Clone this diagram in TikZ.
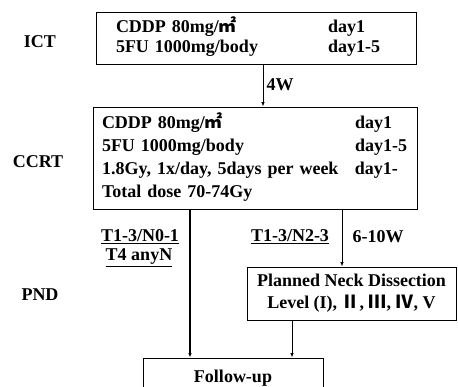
\documentclass[tikz,border=0pt]{standalone}
\usepackage{fontspec}
\setmainfont{Liberation Serif}
\newfontfamily\cjk{Noto Sans CJK SC}
\usetikzlibrary{arrows.meta,positioning,calc}

\begin{document}
\begin{tikzpicture}[
  x=1pt, y=-1pt,
  panel/.style={
    rectangle,
    draw,
    line width=0.9pt,
    inner xsep=0pt,
    inner ysep=0pt,
    align=left,
    font=\fontsize{18}{20}\selectfont\bfseries
  },
  flow/.style={-{Latex[length=4.5pt,width=3.5pt]}, line width=0.8pt},
  phase/.style={inner sep=0pt, font=\fontsize{18}{20}\selectfont\bfseries},
  cond/.style={inner sep=0pt, font=\fontsize{18}{20}\selectfont\bfseries}
]

\clip (0,0) rectangle (458,386);

\node[phase] (ictlab) at (40,42) {ICT};
\node[phase] (ccrtlab) at (38,162) {CCRT};
\node[phase] (pndlab) at (40,295) {PND};

\node[panel, minimum width=320, minimum height=52, text width=280] (ict) at (256,38) {%
  \begin{tabular}{@{}p{212pt}@{}l@{}}
    CDDP 80mg/{\cjk ㎡} & day1\\
    5FU 1000mg/body & day1-5
  \end{tabular}};

\node[panel, minimum width=324, minimum height=102, text width=306] (ccrt) at (255,158) {%
  \raisebox{-3pt}{\begin{tabular}{@{}p{253pt}@{}l@{}}
    CDDP 80mg/{\cjk ㎡} & day1\\[3pt]
    5FU 1000mg/body & day1-5\\[3pt]
    1.8Gy, 1x/day, 5days per week & day1-\\[3pt]
    Total dose 70-74Gy &
  \end{tabular}}};

\node[panel, align=center, minimum width=209, minimum height=53] (pnd) at (351.5,293.5) {%
  Planned Neck Dissection\\[2pt]
  Level (I), {\cjk Ⅱ}, {\cjk Ⅲ}, {\cjk Ⅳ}, V};

\node[panel, align=center, minimum width=180, minimum height=40] (follow) at (233,378) {Follow-up};

\node[cond] (gap) at (280,85) {4W};
\node[cond] (lowN) at (140,237) {\underline{T1-3/N0-1}};
\node[cond] (anyN) at (139,258) {\underline{T4 anyN}};
\node[cond] (highN) at (290,237) {\underline{T1-3/N2-3}};
\node[cond] (wait) at (378,237) {6-10W};

\draw[flow] ([xshift=7pt]ict.south) -- ([xshift=7pt]ict.south |- ccrt.north);
\draw[flow, line width=1.6pt] ([xshift=-65pt]ccrt.south) -- ([xshift=-65pt]ccrt.south |- follow.north);
\draw[flow] ([xshift=87pt]ccrt.south) -- ([xshift=87pt]ccrt.south |- pnd.north);
\draw[flow] ([xshift=-59.5pt]pnd.south) -- ([xshift=-59.5pt]pnd.south |- follow.north);

\end{tikzpicture}
\end{document}
